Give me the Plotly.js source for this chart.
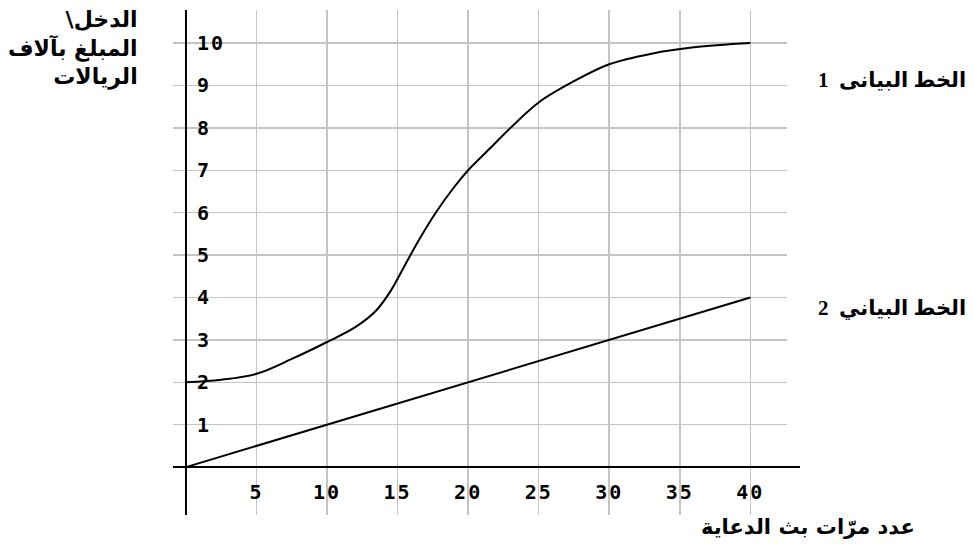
<!DOCTYPE html>
<html>
<head>
<meta charset="utf-8">
<script src="https://cdn.plot.ly/plotly-3.0.1.min.js"></script>
<style>
  html, body { margin: 0; padding: 0; background: #ffffff; }
  #chart { width: 974px; height: 544px; }
  .xtick text, .ytick text { letter-spacing: 2px; }
</style>
</head>
<body>
<div id="chart"></div>
<script>
// ---- data ----
const curve1X = [0, 2.5, 5, 7.5, 10, 12, 13.5, 14.5, 15.5, 16.5, 17.7, 19, 20, 21.5, 23, 25, 27.5, 30, 33, 36, 40];
const curve1Y = [2.0, 2.06, 2.2, 2.55, 2.95, 3.3, 3.7, 4.15, 4.75, 5.35, 6.0, 6.6, 7.0, 7.5, 8.0, 8.6, 9.1, 9.5, 9.75, 9.9, 10.0];
const line2X = [0, 40];
const line2Y = [0, 4];
const xTickVals = [5, 10, 15, 20, 25, 30, 35, 40];
const xTickText = ["5", "10", "15", "20", "25", "30", "35", "40"];
const yTickVals = [1, 2, 3, 4, 5, 6, 7, 8, 9, 10];
const yTickText = ["1", "2", "3", "4", "5", "6", "7", "8", "9", "10"];
const yTitleText = "\\الدخل<br>المبلغ بآلاف<br>الريالات";
const xTitleText = "عدد مرّات بث الدعاية";
const label1Text = "الخط البيانى  1";
const label2Text = "الخط البياني  2";

// ---- layout helpers (pixel -> paper) ----
const W = 974, H = 544;
const M = { l: 173, r: 187, t: 10, b: 29 };
const PW = W - M.l - M.r, PH = H - M.t - M.b;
const px = x => (x - M.l) / PW;
const py = y => (H - M.b - y) / PH;

const tickFont = { family: "DejaVu Sans Mono, Liberation Mono, monospace", size: 20, color: "#000", weight: "bold" };
const arTitleFont = { family: "DejaVu Sans, Noto Sans, sans-serif", size: 22, color: "#000", weight: "bold" };
const arXFont = { family: "DejaVu Sans, Noto Sans, sans-serif", size: 21, color: "#000", weight: "bold" };
const serifFont = { family: "Liberation Serif, DejaVu Serif, DejaVu Sans, serif", size: 21, color: "#000", weight: "bold" };

const traces = [
  { x: curve1X, y: curve1Y, mode: "lines", line: { color: "#000", width: 2, shape: "spline", smoothing: 1 }, hoverinfo: "skip", showlegend: false },
  { x: line2X, y: line2Y, mode: "lines", line: { color: "#000", width: 2 }, hoverinfo: "skip", showlegend: false }
];

const layout = {
  width: W, height: H,
  margin: M,
  paper_bgcolor: "#fff", plot_bgcolor: "#fff",
  showlegend: false,
  xaxis: {
    range: [-0.92, 42.6],
    tickmode: "array", tickvals: xTickVals, ticktext: xTickText,
    ticklabelposition: "inside", ticklabelstandoff: 9,
    tickfont: tickFont,
    showgrid: true, gridcolor: "#c4c4c4", gridwidth: 1.5,
    zeroline: false, showline: false, ticks: "", fixedrange: true
  },
  yaxis: {
    range: [-1.13, 10.78],
    tickmode: "array", tickvals: yTickVals, ticktext: yTickText,
    ticklabelposition: "inside", ticklabelstandoff: 21,
    tickfont: tickFont,
    showgrid: true, gridcolor: "#c4c4c4", gridwidth: 1.5,
    zeroline: false, showline: false, ticks: "", fixedrange: true
  },
  shapes: [
    { type: "line", xref: "x", yref: "paper", x0: 0, x1: 0, y0: 0, y1: 1, line: { color: "#000", width: 2 } },
    { type: "line", xref: "paper", yref: "y", x0: 0, x1: px(800), y0: 0, y1: 0, line: { color: "#000", width: 2 } }
  ],
  annotations: [
    { xref: "paper", yref: "paper", x: px(140), y: py(49), xanchor: "right", yanchor: "middle",
      align: "right", text: yTitleText, showarrow: false, font: arTitleFont },
    { xref: "paper", yref: "paper", x: px(917), y: py(527), xanchor: "right", yanchor: "middle",
      align: "right", text: xTitleText, showarrow: false, font: arXFont },
    { xref: "paper", yref: "paper", x: px(968), y: py(80), xanchor: "right", yanchor: "middle",
      align: "right", text: label1Text, showarrow: false, font: serifFont },
    { xref: "paper", yref: "paper", x: px(968), y: py(308), xanchor: "right", yanchor: "middle",
      align: "right", text: label2Text, showarrow: false, font: serifFont }
  ]
};

Plotly.newPlot("chart", traces, layout, { displayModeBar: false, staticPlot: true });
</script>
</body>
</html>
